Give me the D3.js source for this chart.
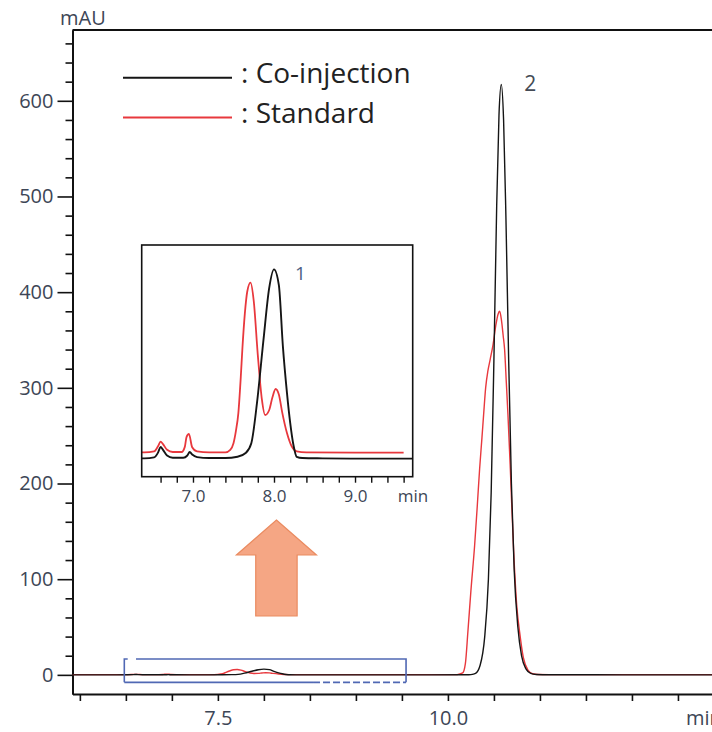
<!DOCTYPE html>
<html>
<head>
<meta charset="utf-8">
<script src="https://cdn.jsdelivr.net/npm/d3@7"></script>
<style>
  html, body { margin: 0; padding: 0; background: #fff; }
  svg { display: block; }
  text { font-family: "Open Sans", sans-serif; }
</style>
</head>
<body>
<svg id="chart" width="712" height="732"></svg>
<script>
// Co-injection trace (retention time in min, absorbance in mAU)
const coInjTime = [5.92, 6.40, 6.52, 6.57, 6.60, 6.63, 6.68, 6.75, 6.88, 6.93, 6.96, 6.99, 7.05, 7.20, 7.40,
  7.55, 7.65, 7.72, 7.79, 7.87, 7.94, 8.00, 8.06, 8.11, 8.16, 8.20, 8.24, 8.28, 8.35, 8.60, 9.20, 9.80,
  10.20, 10.25, 10.30, 10.35, 10.40, 10.44, 10.47, 10.50, 10.53, 10.555, 10.58, 10.605, 10.63, 10.66,
  10.69, 10.72, 10.76, 10.80, 10.85, 10.90, 10.96, 11.10, 11.60, 12.20, 12.87];
const coInjMAU = [0.02, 0.03, 0.06, 0.22, 0.39, 0.30, 0.12, 0.05, 0.05, 0.12, 0.23, 0.15, 0.07, 0.04, 0.04,
  0.08, 0.20, 0.51, 1.78, 3.77, 5.40, 6.00, 5.50, 3.56, 2.10, 1.15, 0.45, 0.08, 0.04, 0.03, 0.02, 0.02,
  0.05, 0.3, 1.5, 10, 40, 100, 190, 330, 490, 585, 617, 580, 480, 330,
  200, 110, 50, 20, 6, 1.5, 0.4, 0.1, 0.05, 0.03, 0.02];

// Standard trace
const stdTime = [5.92, 6.40, 6.52, 6.57, 6.60, 6.63, 6.68, 6.75, 6.86, 6.90, 6.92, 6.95, 6.99, 7.05, 7.20,
  7.40, 7.46, 7.50, 7.53, 7.56, 7.59, 7.61, 7.64, 7.67, 7.71, 7.75, 7.80, 7.85, 7.89, 7.94, 7.98, 8.02,
  8.06, 8.10, 8.16, 8.22, 8.28, 8.40, 9.00, 9.60, 10.00, 10.10, 10.16, 10.19, 10.217, 10.25, 10.29,
  10.32, 10.345, 10.37, 10.388, 10.41, 10.435, 10.46, 10.49, 10.52, 10.545, 10.562, 10.58, 10.60,
  10.616, 10.635, 10.652, 10.678, 10.714, 10.75, 10.779, 10.82, 10.87, 10.92, 10.98, 11.10, 11.60,
  12.20, 12.87];
const stdMAU = [0.21, 0.22, 0.25, 0.42, 0.56, 0.48, 0.30, 0.23, 0.23, 0.40, 0.70, 0.80, 0.38, 0.25, 0.22,
  0.22, 0.30, 0.51, 0.90, 1.46, 2.60, 3.50, 4.60, 5.30, 5.58, 5.00, 3.30, 1.90, 1.40, 1.55, 1.95, 2.22,
  2.05, 1.50, 0.83, 0.40, 0.25, 0.22, 0.21, 0.21, 0.22, 0.30, 2, 12, 45, 88, 135,
  178, 216, 248, 272, 300, 318, 330, 345, 365, 377, 380, 372, 355,
  340, 305, 273, 216, 130, 70, 45, 18, 5, 1.2, 0.4, 0.25, 0.22,
  0.21, 0.21];

// Axis ticks and labels
const yTickLabels = [0, 100, 200, 300, 400, 500, 600];
const xTickLabels = [7.5, 10.0];
const insetTickLabels = [7.0, 8.0, 9.0];
const seriesNames = ["Co-injection", "Standard"];
const peakLabels = ["1", "2"];

const coInj = coInjTime.map((t, i) => ({ t, v: coInjMAU[i] }));
const std = stdTime.map((t, i) => ({ t, v: stdMAU[i] }));

const svg = d3.select("#chart");
const plot = { left: 72.5, right: 712, top: 30, bottom: 694 };

const x = d3.scaleLinear().domain([5.92, 12.87]).range([plot.left, plot.right]);
const y = d3.scaleLinear().domain([-20, 674]).range([plot.bottom, plot.top]);

const BLACK = "#151515", RED = "#e8383d", LABEL = "#3d4656";

svg.append("defs").append("clipPath").attr("id", "plotClip")
  .append("rect").attr("x", plot.left).attr("y", plot.top)
  .attr("width", plot.right - plot.left).attr("height", plot.bottom - plot.top);

// Frame: top border
svg.append("line")
  .attr("x1", plot.left).attr("x2", plot.right)
  .attr("y1", plot.top).attr("y2", plot.top)
  .attr("stroke", "#111").attr("stroke-width", 2);

// Y axis: minor ticks every 20 mAU, labelled ticks every 100
const yMinor = d3.range(20, 661, 20).filter(v => v % 100 !== 0);
const yAxisMinor = svg.append("g").attr("transform", `translate(${plot.left},0)`)
  .call(d3.axisLeft(y).tickValues(yMinor).tickSize(7).tickSizeOuter(0).tickFormat(""));
const yAxisMajor = svg.append("g").attr("transform", `translate(${plot.left},0)`)
  .call(d3.axisLeft(y).tickValues(yTickLabels).tickSize(15).tickSizeOuter(0).tickPadding(4).tickFormat(d3.format("d")));

// X axis: ticks every 0.5 min, labels every 2.5 min
const xTicks = d3.range(6.0, 12.51, 0.5);
const xAxis = svg.append("g").attr("transform", `translate(0,${plot.bottom})`)
  .call(d3.axisBottom(x).tickValues(xTicks).tickSize(7).tickSizeOuter(0).tickPadding(10)
    .tickFormat(d => xTickLabels.some(l => Math.abs(l - d) < 1e-6) ? d3.format(".1f")(d) : ""));

[yAxisMinor, yAxisMajor, xAxis].forEach(g => {
  g.select(".domain").attr("stroke", "#111").attr("stroke-width", 2);
  g.selectAll(".tick line").attr("stroke", "#111").attr("stroke-width", 1.6);
  g.selectAll(".tick text").attr("fill", LABEL).style("font-size", "20px")
    .style("font-family", '"Open Sans", sans-serif');
});

// Axis unit labels (the time unit runs off the right edge of the frame)
svg.append("text").attr("x", x(12.5) + 8).attr("y", plot.bottom + 7 + 10)
  .attr("dy", "0.71em").attr("fill", LABEL).style("font-size", "20px").text("min");

svg.append("text").attr("x", 60).attr("y", 25)
  .attr("fill", LABEL).style("font-size", "20px").text("mAU");

// Traces
const line = d3.line().x(d => x(d.t)).y(d => y(d.v)).curve(d3.curveMonotoneX);
const traces = svg.append("g").attr("clip-path", "url(#plotClip)");
traces.append("path").datum(std).attr("d", line)
  .attr("fill", "none").attr("stroke", RED).attr("stroke-width", 1.4);
traces.append("path").datum(coInj).attr("d", line)
  .attr("fill", "none").attr("stroke", BLACK).attr("stroke-width", 1.4);

// Zoom region marker around the small peaks
const box = { t0: 6.483, t1: 9.545, v0: -7.8, v1: 16.6, tDash: 8.534, tGap0: 6.52, tGap1: 6.61 };
const BLUE = "#5068b4";
const boxG = svg.append("g").attr("stroke", BLUE).attr("stroke-width", 1.6).attr("fill", "none");
boxG.append("path").attr("d",
  `M${x(box.t0)},${y(box.v0)}V${y(box.v1)}H${x(box.tGap0)}` +
  `M${x(box.tGap1)},${y(box.v1)}H${x(box.t1)}V${y(box.v0)}` +
  `M${x(box.t0)},${y(box.v0)}H${x(box.tDash)}`);
boxG.append("path").attr("d", `M${x(box.tDash)},${y(box.v0)}H${x(box.t1)}`)
  .attr("stroke-dasharray", "7,3");

// Peak 2 label
svg.append("text").attr("x", x(10.58) + 23).attr("y", y(617) + 6)
  .attr("fill", "#444b55").style("font-size", "21px").text(peakLabels[1]);

// Legend
const legend = [{ name: seriesNames[0], color: BLACK, y: 77.7, base: 83, w: 2 },
                { name: seriesNames[1], color: RED, y: 117.5, base: 122.5, w: 1.8 }];
legend.forEach(l => {
  svg.append("line").attr("x1", 123).attr("x2", 232).attr("y1", l.y).attr("y2", l.y)
    .attr("stroke", l.color).attr("stroke-width", l.w);
  svg.append("text").attr("x", 241).attr("y", l.base).attr("fill", "#222")
    .style("font-size", "28px").text(": " + l.name);
});

// Inset: enlarged view of the 6.4–9.7 min region
const inset = { left: 141.7, right: 412.7, top: 245, bottom: 476.7 };
const xi = d3.scaleLinear().domain([6.367, 9.712]).range([inset.left, inset.right]);
const yi = d3.scaleLinear().domain([-0.55, 6.77]).range([inset.bottom, inset.top]);

svg.append("defs").append("clipPath").attr("id", "insetClip")
  .append("rect").attr("x", inset.left).attr("y", inset.top)
  .attr("width", inset.right - inset.left).attr("height", inset.bottom - inset.top);

svg.append("rect").attr("x", inset.left).attr("y", inset.top)
  .attr("width", inset.right - inset.left).attr("height", inset.bottom - inset.top)
  .attr("fill", "#fff");

const lineI = d3.line().x(d => xi(d.t)).y(d => yi(d.v)).curve(d3.curveMonotoneX);
const insetTraces = svg.append("g").attr("clip-path", "url(#insetClip)");
insetTraces.append("path").datum(std.filter(d => d.t < 9.9)).attr("d", lineI)
  .attr("fill", "none").attr("stroke", RED).attr("stroke-width", 1.8);
insetTraces.append("path").datum(coInj.filter(d => d.t < 9.9)).attr("d", lineI)
  .attr("fill", "none").attr("stroke", BLACK).attr("stroke-width", 1.9);

svg.append("rect").attr("x", inset.left).attr("y", inset.top)
  .attr("width", inset.right - inset.left).attr("height", inset.bottom - inset.top)
  .attr("fill", "none").attr("stroke", "#111").attr("stroke-width", 1.6);

const insetTicks = d3.range(6.6, 9.61, 0.2);
const xAxisI = svg.append("g").attr("transform", `translate(0,${inset.bottom})`)
  .call(d3.axisBottom(xi).tickValues(insetTicks).tickSize(6).tickSizeOuter(0).tickPadding(7)
    .tickFormat(d => insetTickLabels.some(l => Math.abs(l - d) < 1e-6) ? d3.format(".1f")(d) : ""));
xAxisI.select(".domain").remove();
xAxisI.selectAll(".tick line").attr("stroke", "#111").attr("stroke-width", 1.4);
xAxisI.selectAll(".tick text").attr("fill", LABEL).style("font-size", "17px")
  .style("font-family", '"Open Sans", sans-serif');
svg.append("text").attr("x", inset.right - 15).attr("y", inset.bottom + 6 + 7)
  .attr("dy", "0.71em").attr("fill", LABEL).style("font-size", "17px").text("min");

// Peak 1 label
svg.append("text").attr("x", xi(8.0) + 21).attr("y", yi(6.0) + 11)
  .attr("fill", "#4d5f85").style("font-size", "19px").text(peakLabels[0]);

// Arrow pointing from the marked region up to the inset
const ax = xi(8.03);
const arrow = { tip: 520, head: 555, bottom: 616, headHalf: 40, shaftHalf: 20.7 };
svg.append("path")
  .attr("d", `M${ax},${arrow.tip}L${ax + arrow.headHalf},${arrow.head}H${ax + arrow.shaftHalf}` +
    `V${arrow.bottom}H${ax - arrow.shaftHalf}V${arrow.head}H${ax - arrow.headHalf}Z`)
  .attr("fill", "#f5a684").attr("stroke", "#ea8b60").attr("stroke-width", 1.2)
  .attr("stroke-linejoin", "miter");
</script>
</body>
</html>
